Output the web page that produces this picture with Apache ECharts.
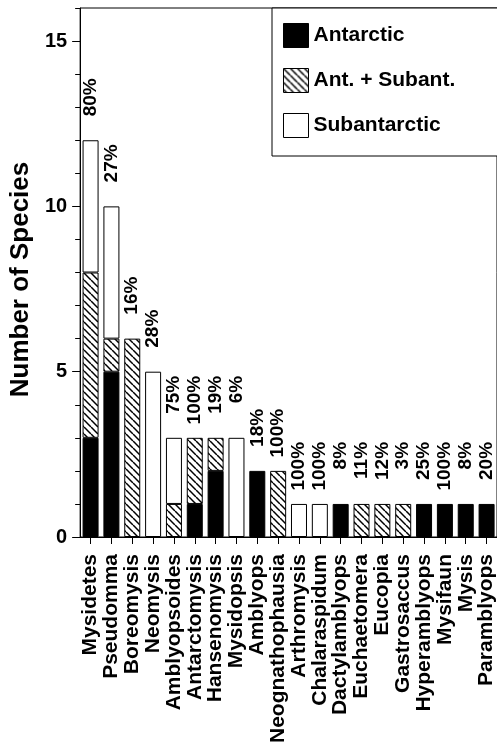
<!DOCTYPE html>
<html>
<head>
<meta charset="utf-8">
<script src="https://cdn.jsdelivr.net/npm/echarts@6/dist/echarts.min.js"></script>
<style>
html,body{margin:0;padding:0;background:#fff;}
#chart{width:497px;height:749px;}
</style>
</head>
<body>
<div id="chart"></div>
<script>
const categories = ['Mysidetes','Pseudomma','Boreomysis','Neomysis','Amblyopsoides','Antarctomysis','Hansenomysis','Mysidopsis','Amblyops','Neognathophausia','Arthromysis','Chalaraspidum','Dactylamblyops','Euchaetomera','Eucopia','Gastrosaccus','Hyperamblyops','Mysifaun','Mysis','Paramblyops'];
const antarctic    = [3,5,0,0,0,1,2,0,2,0,0,0,1,0,0,0,1,1,1,1];
const antSubant    = [5,1,6,0,1,2,1,0,0,2,0,0,0,1,1,1,0,0,0,0];
const subantarctic = [4,4,0,5,2,0,0,3,0,0,1,1,0,0,0,0,0,0,0,0];
const percentLabels = ['80%','27%','16%','28%','75%','100%','19%','6%','18%','100%','100%','100%','8%','11%','12%','3%','25%','100%','8%','20%'];
const yTicks = [0,5,10,15];
const yMinorTicks = [0,1,2,3,4,5,6,7,8,9,10,11,12,13,14,15,16];

const FONT = '"Liberation Sans", Arial, Helvetica, sans-serif';

function hatch() {
  const c = document.createElement('canvas');
  c.width = 7; c.height = 7;
  const g = c.getContext('2d');
  g.fillStyle = '#fff'; g.fillRect(0,0,7,7);
  g.strokeStyle = '#000'; g.lineWidth = 1.5;
  for (const k of [-7,0,7]) { g.beginPath(); g.moveTo(k,0); g.lineTo(k+7,7); g.stroke(); }
  return c;
}
const hatchFill = {image: hatch(), repeat: 'repeat'};

const nz = a => a.map(v => v === 0 ? '-' : v);
const totals = categories.map((_, i) => antarctic[i] + antSubant[i] + subantarctic[i]);

const chart = echarts.init(document.getElementById('chart'), null, {renderer: 'canvas'});
const barCommon = {type: 'bar', stack: 's', barWidth: 16};
chart.setOption({
  animation: false,
  backgroundColor: '#fff',
  textStyle: {fontFamily: FONT, color: '#000'},
  grid: {left: 75, right: -2, top: 8, bottom: 212, show: true, borderColor: '#000', borderWidth: 1, backgroundColor: 'transparent'},
  legend: {
    orient: 'vertical', left: 272, top: 8,
    backgroundColor: '#fff', borderColor: '#000', borderWidth: 1,
    padding: [15, 45, 18, 11],
    itemWidth: 25, itemHeight: 24, itemGap: 20,
    icon: 'rect',
    textStyle: {fontFamily: FONT, fontSize: 21, fontWeight: 'bold', color: '#000'},
    data: [
      {name: 'Antarctic', itemStyle: {color: '#000', borderColor: '#000', borderWidth: 1}},
      {name: 'Ant. + Subant.', itemStyle: {color: hatchFill, borderColor: '#000', borderWidth: 1}},
      {name: 'Subantarctic', itemStyle: {color: '#fff', borderColor: '#000', borderWidth: 1}}
    ]
  },
  xAxis: {
    type: 'category', data: categories,
    axisLine: {show: true, lineStyle: {color: '#000', width: 1}},
    axisTick: {show: true, alignWithLabel: true, length: 7, lineStyle: {color: '#000'}},
    axisLabel: {interval: 0, rotate: 90, margin: 17, fontSize: 21, fontWeight: 'bold', color: '#000', fontFamily: FONT, hideOverlap: false}
  },
  yAxis: [{
    type: 'value', min: 0, max: 16, interval: 1,
    name: 'Number of Species', nameLocation: 'middle', nameRotate: 90, nameGap: 46,
    nameTextStyle: {fontSize: 26, fontWeight: 'bold', color: '#000', fontFamily: FONT, padding: [0, 14, 0, 0]},
    axisLine: {show: true, lineStyle: {color: '#000'}},
    axisTick: {show: true, length: 5, lineStyle: {color: '#000'}, customValues: yMinorTicks},
    axisLabel: {customValues: yTicks, margin: 13, fontSize: 20, fontWeight: 'bold', color: '#000', fontFamily: FONT},
    splitLine: {show: false}
  }, {
    type: 'value', min: 0, max: 16, position: 'left',
    axisLine: {show: false},
    axisTick: {show: true, length: 8, lineStyle: {color: '#000'}, customValues: yTicks},
    axisLabel: {show: false},
    splitLine: {show: false}
  }],
  series: [
    Object.assign({name: 'Antarctic', data: nz(antarctic), itemStyle: {color: '#000', borderColor: '#000', borderWidth: 1}}, barCommon),
    Object.assign({name: 'Ant. + Subant.', data: nz(antSubant), itemStyle: {color: hatchFill, borderColor: '#000', borderWidth: 1}}, barCommon),
    Object.assign({name: 'Subantarctic', data: nz(subantarctic), itemStyle: {color: '#fff', borderColor: '#000', borderWidth: 1}}, barCommon),
    {
      name: 'pct', type: 'scatter', data: totals, symbolSize: 0, itemStyle: {color: 'transparent', opacity: 1},
      silent: true,
      label: {
        show: true, position: 'top', distance: 62, rotate: 90, align: 'right', verticalAlign: 'middle',
        fontSize: 19, fontWeight: 'bold', color: '#000', opacity: 1, fontFamily: FONT,
        formatter: p => percentLabels[p.dataIndex]
      }
    }
  ]
});
</script>
</body>
</html>
